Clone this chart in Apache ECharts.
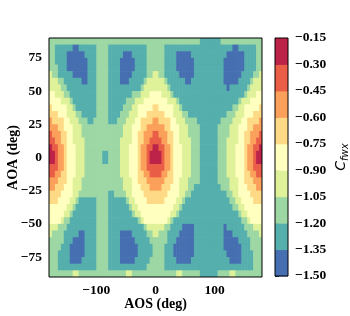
<!DOCTYPE html>
<html><head><meta charset="utf-8">
<script src="https://cdn.jsdelivr.net/npm/echarts@6/dist/echarts.min.js"></script>
<style>html,body{margin:0;padding:0;background:#fff}#c{width:350px;height:316px}</style>
</head><body><div id="c"></div>
<script>
// Grid cell centres (deg)
const AOS_CENTERS = [-177.5,-172.5,-167.5,-162.5,-157.5,-152.5,-147.5,-142.5,-137.5,-132.5,-127.5,-122.5,-117.5,-112.5,-107.5,-102.5,-97.5,-92.5,-87.5,-82.5,-77.5,-72.5,-67.5,-62.5,-57.5,-52.5,-47.5,-42.5,-37.5,-32.5,-27.5,-22.5,-17.5,-12.5,-7.5,-2.5,2.5,7.5,12.5,17.5,22.5,27.5,32.5,37.5,42.5,47.5,52.5,57.5,62.5,67.5,72.5,77.5,82.5,87.5,92.5,97.5,102.5,107.5,112.5,117.5,122.5,127.5,132.5,137.5,142.5,147.5,152.5,157.5,162.5,167.5,172.5,177.5];
const AOA_CENTERS = [87.5,82.5,77.5,72.5,67.5,62.5,57.5,52.5,47.5,42.5,37.5,32.5,27.5,22.5,17.5,12.5,7.5,2.5,-2.5,-7.5,-12.5,-17.5,-22.5,-27.5,-32.5,-37.5,-42.5,-47.5,-52.5,-57.5,-62.5,-67.5,-72.5,-77.5,-82.5,-87.5];
// Contour levels of C_fwx
const LEVELS = [-1.5,-1.35,-1.2,-1.05,-0.9,-0.75,-0.6,-0.45,-0.3,-0.15];
const BAND_COLORS = ['#466fb1','#55afad','#9cd7a4','#dff299','#ffffbf','#feda86','#fba05a','#ea5d47','#bd2349'];
const X_TICKS = [-100, 0, 100];
const Y_TICKS = [-75, -50, -25, 0, 25, 50, 75];
// Band index per cell (0 = lowest band), run-length "band:count", rows from AOA 90 down to -90, columns AOS -180..180
const BAND_ROWS = [
"2:51 1:7 2:14",
"2:2 1:6 0:2 1:6 2:4 1:13 2:6 1:23 0:2 1:6 2:2",
"2:2 1:4 0:6 1:4 2:4 1:5 0:3 1:5 2:6 1:4 0:5 1:12 0:6 1:4 2:2",
"2:2 1:4 0:7 1:3 2:4 1:4 0:5 1:4 2:6 1:4 0:6 1:10 0:7 1:4 2:2",
"2:3 1:3 0:7 1:3 2:4 1:4 0:5 1:4 2:6 1:4 0:6 1:10 0:7 1:4 2:2",
"3:1 2:2 1:5 0:5 1:3 2:4 1:4 0:4 1:5 2:2 3:2 2:2 1:5 0:5 1:10 0:6 1:4 2:2 3:1",
"3:3 2:2 1:6 0:2 1:3 2:4 1:4 0:3 1:5 2:1 3:6 2:1 1:6 0:2 1:11 0:5 1:4 2:1 3:3",
"3:4 2:2 1:10 2:4 1:11 2:1 3:8 2:1 1:19 0:1 1:6 2:1 3:4",
"4:2 3:3 2:2 1:9 2:4 1:8 2:3 3:3 4:4 3:3 2:1 1:24 2:1 3:3 4:2",
"4:4 3:3 2:1 1:8 2:4 1:6 2:3 3:3 4:8 3:3 2:1 1:20 2:1 3:3 4:4",
"5:1 4:5 3:2 2:1 1:7 2:4 1:5 2:3 3:2 4:5 5:2 4:5 3:2 2:1 1:17 2:2 3:2 4:5 5:1",
"5:3 4:3 3:3 2:2 1:5 2:4 1:4 2:3 3:3 4:3 5:6 4:3 3:3 2:2 1:13 2:3 3:3 4:3 5:3",
"6:1 5:4 4:2 3:3 2:3 1:2 2:5 1:3 2:3 3:3 4:2 5:4 6:2 5:4 4:2 3:3 2:4 1:8 2:4 3:3 4:2 5:4 6:1",
"6:3 5:2 4:3 3:3 2:14 3:3 4:3 5:2 6:6 5:2 4:3 3:3 2:4 1:6 2:4 3:3 4:3 5:2 6:3",
"7:1 6:3 5:2 4:2 3:3 2:14 3:3 4:2 5:2 6:3 7:2 6:3 5:2 4:2 3:3 2:4 1:6 2:4 3:3 4:2 5:2 6:3 7:1",
"7:2 6:2 5:2 4:2 3:4 2:12 3:4 4:2 5:2 6:2 7:4 6:2 5:2 4:2 3:4 2:3 1:6 2:3 3:4 4:2 5:2 6:2 7:2",
"8:1 7:2 6:2 5:1 4:3 3:3 2:12 3:3 4:3 5:1 6:2 7:2 8:2 7:2 6:2 5:1 4:3 3:3 2:3 1:6 2:3 3:3 4:3 5:1 6:2 7:2 8:1",
"8:2 7:1 6:2 5:1 4:3 3:3 2:6 1:2 2:4 3:3 4:3 5:1 6:2 7:1 8:4 7:1 6:2 5:1 4:3 3:3 2:3 1:6 2:3 3:3 4:3 5:1 6:2 7:1 8:2",
"8:2 7:1 6:2 5:1 4:3 3:3 2:6 1:2 2:4 3:3 4:3 5:1 6:2 7:1 8:4 7:1 6:2 5:1 4:3 3:3 2:3 1:6 2:3 3:3 4:3 5:1 6:2 7:1 8:2",
"7:3 6:2 5:1 4:3 3:3 2:12 3:3 4:3 5:1 6:2 7:6 6:2 5:1 4:3 3:3 2:3 1:6 2:3 3:3 4:3 5:1 6:2 7:3",
"7:2 6:2 5:2 4:3 3:3 2:12 3:3 4:3 5:2 6:2 7:4 6:2 5:2 4:3 3:3 2:3 1:6 2:3 3:3 4:3 5:2 6:2 7:2",
"6:3 5:3 4:2 3:3 2:14 3:3 4:2 5:3 6:6 5:3 4:2 3:3 2:4 1:6 2:4 3:3 4:2 5:3 6:3",
"6:2 5:3 4:3 3:3 2:14 3:3 4:3 5:3 6:4 5:3 4:3 3:3 2:2 1:9 2:3 3:3 4:3 5:3 6:2",
"5:4 4:4 3:2 2:10 1:2 2:4 3:2 4:4 5:8 4:4 3:2 2:2 1:12 2:2 3:2 4:4 5:4",
"5:3 4:4 3:2 2:1 1:6 2:4 1:6 2:1 3:2 4:4 5:6 4:4 3:2 2:1 1:15 2:2 3:2 4:4 5:3",
"4:6 3:2 2:1 1:7 2:4 1:7 2:1 3:2 4:12 3:2 2:1 1:17 2:2 3:2 4:6",
"4:5 3:2 2:1 1:8 2:4 1:8 2:1 3:2 4:10 3:2 2:1 1:20 2:1 3:2 4:5",
"4:4 3:1 2:2 1:9 2:4 1:10 2:1 3:1 4:8 3:1 2:1 1:23 2:2 3:1 4:4",
"3:3 2:3 1:10 2:4 1:12 2:1 3:6 2:2 1:4 0:4 1:10 0:1 1:6 2:3 3:3",
"3:1 2:4 1:5 0:2 1:4 2:4 1:4 0:4 1:5 2:2 3:2 2:3 1:4 0:5 1:10 0:3 1:5 2:4 3:1",
"2:5 1:3 0:4 1:4 2:4 1:4 0:5 1:5 2:6 1:3 0:6 1:10 0:5 1:4 2:4",
"2:4 1:3 0:5 1:4 2:4 1:4 0:6 1:5 2:4 1:3 0:7 1:10 0:6 1:3 2:4",
"2:3 1:4 0:5 1:4 2:4 1:4 0:6 1:5 2:4 1:3 0:7 1:11 0:5 1:4 2:3",
"2:3 1:4 0:4 1:5 2:4 1:4 0:5 1:5 2:5 1:4 0:5 1:13 0:4 1:4 2:3",
"2:3 1:13 2:4 1:13 2:6 1:30 2:3",
"2:8 3:2 2:16 3:2 2:15 3:2 2:6 1:6 2:4 3:2 2:9"
];

const cells = [];
BAND_ROWS.forEach((row, r) => {
  let c = 0;
  row.trim().split(/\s+/).forEach(tok => {
    const [b, n] = tok.split(':').map(Number);
    for (let i = 0; i < n; i++) {
      if (c < AOS_CENTERS.length) cells.push([AOS_CENTERS[c], AOA_CENTERS[r], (LEVELS[b] + LEVELS[b + 1]) / 2]);
      c++;
    }
  });
  if (c !== AOS_CENTERS.length) console.warn('row', r, 'has', c, 'cells');
});
const HALF_X = (AOS_CENTERS[1] - AOS_CENTERS[0]) / 2;
const HALF_Y = (AOA_CENTERS[0] - AOA_CENTERS[1]) / 2;
const barData = LEVELS.slice(0, -1).map((lo, k) => [0.5, lo, (lo + LEVELS[k + 1]) / 2, LEVELS[k + 1]]);

const minus = v => (v < 0 ? '\u2212' : '') + Math.abs(v);
const tickFont = { fontFamily: 'Liberation Serif', fontWeight: 'bold', fontSize: 13.5, color: '#000' };
const lineStyle = { color: '#000', width: 1 };

const chart = echarts.init(document.getElementById('c'), null, { renderer: 'canvas' });
chart.setOption({
  animation: false,
  backgroundColor: '#fff',
  grid: [
    { left: 49, top: 38, width: 213, height: 239, containLabel: false, outerBoundsMode: 'none',
      show: true, borderColor: '#000', borderWidth: 1, backgroundColor: 'transparent', z: 10 },
    { left: 275, top: 38, width: 13, height: 238, containLabel: false, outerBoundsMode: 'none',
      show: true, borderColor: '#000', borderWidth: 1, backgroundColor: 'transparent', z: 10 }
  ],
  xAxis: [
    { type: 'value', gridIndex: 0, min: -180, max: 180, splitLine: { show: false },
      name: 'AOS (deg)', nameLocation: 'middle', nameGap: 20, nameMoveOverlap: false,
      nameTextStyle: { fontFamily: 'Liberation Serif', fontWeight: 'bold', fontSize: 14, color: '#000' },
      axisLine: { show: false }, axisTick: { show: true, length: 4, lineStyle, customValues: X_TICKS },
      axisLabel: { customValues: X_TICKS, formatter: minus, margin: 7, ...tickFont } },
    { type: 'value', gridIndex: 1, min: 0, max: 1, show: false }
  ],
  yAxis: [
    { type: 'value', gridIndex: 0, min: -90, max: 90, splitLine: { show: false },
      name: 'AOA (deg)', nameLocation: 'middle', nameGap: 29, nameRotate: 90, nameMoveOverlap: false,
      nameTextStyle: { fontFamily: 'Liberation Serif', fontWeight: 'bold', fontSize: 14, color: '#000' },
      axisLine: { show: false }, axisTick: { show: true, length: 4, lineStyle, customValues: Y_TICKS },
      axisLabel: { customValues: Y_TICKS, formatter: minus, margin: 7, ...tickFont } },
    { type: 'value', gridIndex: 1, position: 'right', min: LEVELS[0], max: LEVELS[LEVELS.length - 1], splitLine: { show: false },
      name: '{c|C}{s|fwx}', nameLocation: 'middle', nameGap: 44, nameRotate: 90, nameMoveOverlap: false,
      nameTextStyle: { rich: {
        c: { fontFamily: 'DejaVu Sans', fontStyle: 'italic', fontSize: 14, lineHeight: 18, color: '#000' },
        s: { fontFamily: 'DejaVu Sans', fontStyle: 'italic', fontSize: 10, lineHeight: 12, verticalAlign: 'bottom', color: '#000' } } },
      axisLine: { show: false }, axisTick: { show: true, length: 4, lineStyle, customValues: LEVELS },
      axisLabel: { customValues: LEVELS, formatter: v => (v < 0 ? '\u2212' : '') + Math.abs(v).toFixed(2), margin: 7, showMinLabel: true, showMaxLabel: true, ...tickFont } }
  ],
  visualMap: {
    type: 'piecewise', show: false, dimension: 2, seriesIndex: [0, 1],
    pieces: LEVELS.slice(0, -1).map((lo, k) => ({ gte: lo, lt: LEVELS[k + 1], color: BAND_COLORS[k] }))
  },
  series: [
    { type: 'custom', xAxisIndex: 0, yAxisIndex: 0, clip: true, data: cells, encode: { x: 0, y: 1 },
      renderItem: (params, api) => {
        const x = api.value(0), y = api.value(1);
        const p0 = api.coord([x - HALF_X, y + HALF_Y]);
        const p1 = api.coord([x + HALF_X, y - HALF_Y]);
        return { type: 'rect', shape: { x: p0[0], y: p0[1], width: p1[0] - p0[0] + 0.6, height: p1[1] - p0[1] + 0.6 },
                 style: { fill: api.visual('color') } };
      } },
    { type: 'custom', xAxisIndex: 1, yAxisIndex: 1, data: barData, encode: { x: 0, y: 2 },
      renderItem: (params, api) => {
        const p0 = api.coord([0, api.value(3)]);
        const p1 = api.coord([1, api.value(1)]);
        return { type: 'rect', shape: { x: p0[0], y: p0[1], width: p1[0] - p0[0], height: p1[1] - p0[1] + 0.5 },
                 style: { fill: api.visual('color') } };
      } }
  ]
});
</script></body></html>
